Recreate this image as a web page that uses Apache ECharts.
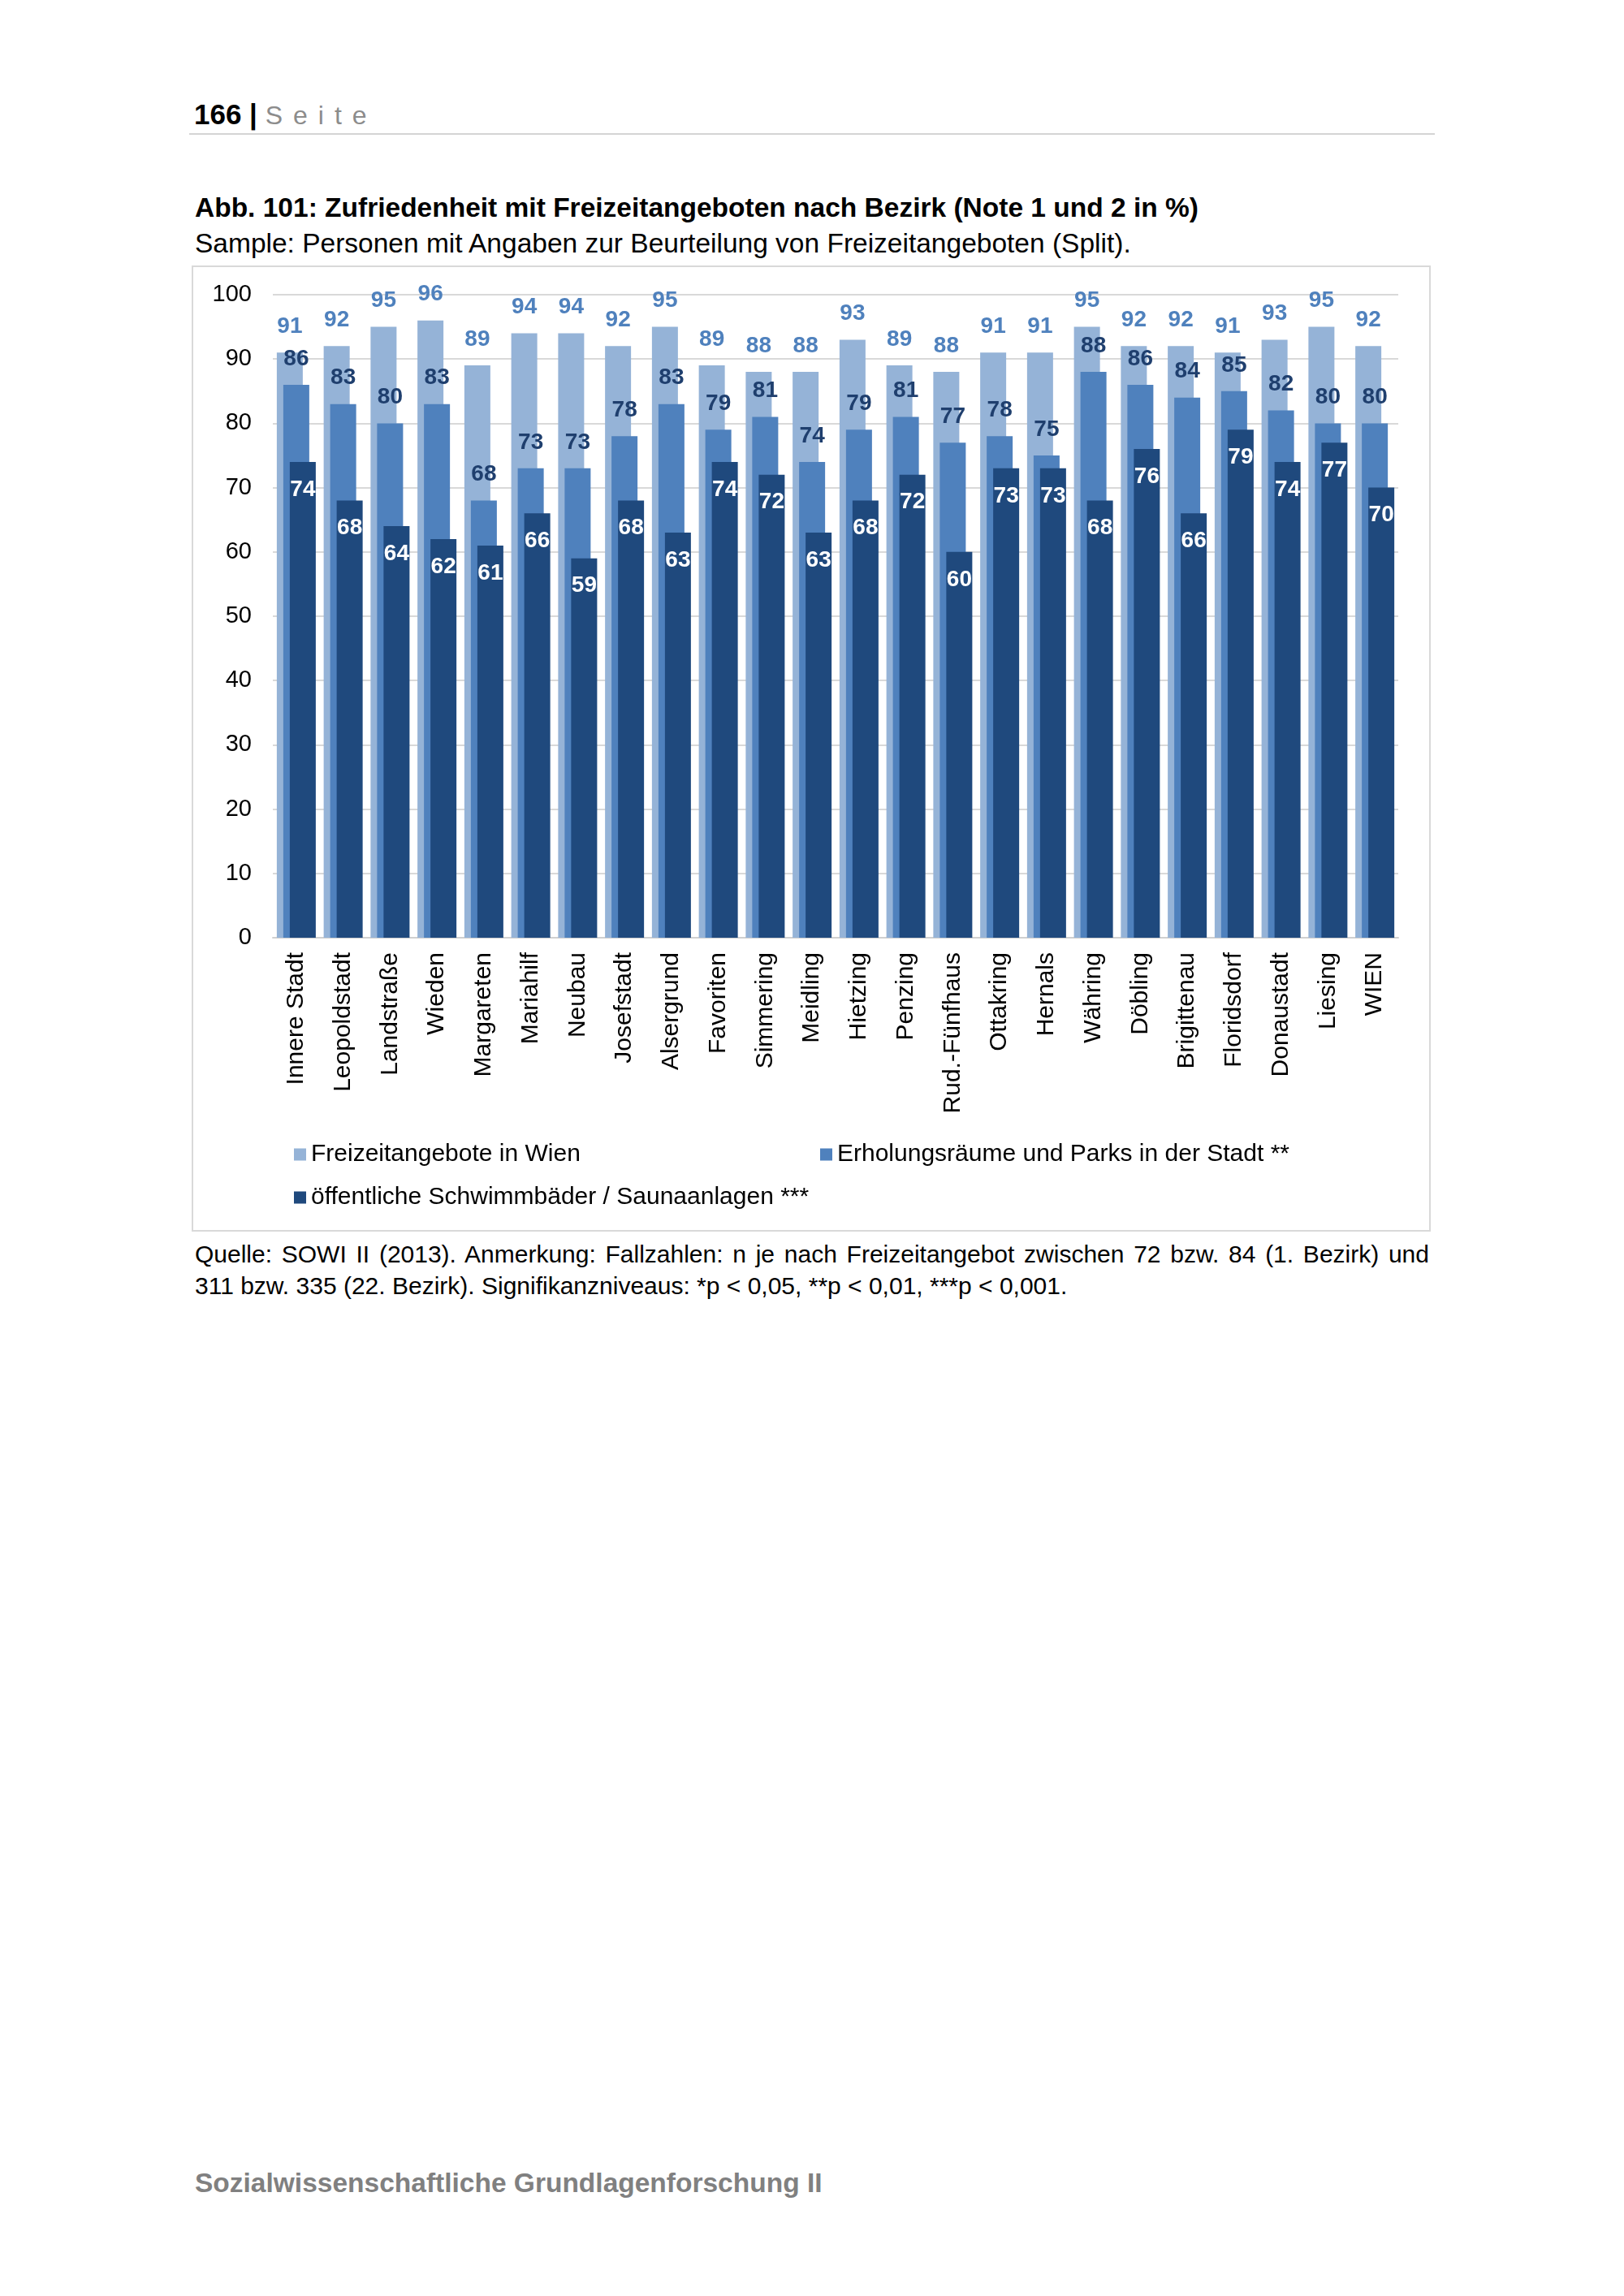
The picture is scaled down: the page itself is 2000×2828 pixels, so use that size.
<!DOCTYPE html>
<html>
<head>
<meta charset="utf-8">
<title>Abb. 101</title>
<script src="https://cdn.jsdelivr.net/npm/echarts@6.0.0/dist/echarts.min.js"></script>
<style>
  body { margin: 0; background: #fff; font-family: "Liberation Sans", Arial, sans-serif; }
  .page { position: relative; width: 2000px; height: 2828px; }
  .txt { position: absolute; white-space: nowrap; line-height: 1; }
  #head { left: 239px; top: 123px; font-size: 35px; font-weight: bold; color: #000; }
  #head .seite { font-size: 32px; font-weight: normal; color: #8c8c8c; letter-spacing: 13px; }
  #headline { position: absolute; left: 233px; top: 164px; width: 1534px; height: 2px; background: #d4d4d4; }
  #title { left: 240px; top: 239px; font-size: 33.5px; font-weight: bold; }
  #sub { left: 240px; top: 283px; font-size: 33.5px; }
  #box { position: absolute; left: 236px; top: 327px; width: 1522px; height: 1186px; border: 2px solid #d9d9d9; }
  #chart { position: absolute; left: 0; top: 0; width: 1522px; height: 1186px; }
  .note { position: absolute; left: 240px; width: 1520px; font-size: 30px; line-height: 30px; }
  #note1 { top: 1530px; text-align: justify; text-align-last: justify; }
  #note2 { top: 1569px; }
  #foot { left: 240px; top: 2672px; font-size: 33.5px; font-weight: bold; color: #808080; }
</style>
</head>
<body>
<div class="page">
  <div class="txt" id="head">166 | <span class="seite">Seite</span></div>
  <div id="headline"></div>
  <div class="txt" id="title">Abb. 101: Zufriedenheit mit Freizeitangeboten nach Bezirk (Note 1 und 2 in %)</div>
  <div class="txt" id="sub">Sample: Personen mit Angaben zur Beurteilung von Freizeitangeboten (Split).</div>
  <div id="box"><div id="chart"></div></div>
  <div class="note" id="note1">Quelle: SOWI II (2013). Anmerkung: Fallzahlen: n je nach Freizeitangebot zwischen 72 bzw. 84 (1. Bezirk) und</div>
  <div class="note" id="note2">311 bzw. 335 (22. Bezirk). Signifikanzniveaus: *p &lt; 0,05, **p &lt; 0,01, ***p &lt; 0,001.</div>
  <div class="txt" id="foot">Sozialwissenschaftliche Grundlagenforschung II</div>
</div>
<script>
// Bezirke
var categories = ['Innere Stadt', 'Leopoldstadt', 'Landstraße', 'Wieden', 'Margareten', 'Mariahilf',
  'Neubau', 'Josefstadt', 'Alsergrund', 'Favoriten', 'Simmering', 'Meidling', 'Hietzing', 'Penzing',
  'Rud.-Fünfhaus', 'Ottakring', 'Hernals', 'Währing', 'Döbling', 'Brigittenau', 'Floridsdorf',
  'Donaustadt', 'Liesing', 'WIEN'];

var seriesNames = ['Freizeitangebote in Wien', 'Erholungsräume und Parks in der Stadt **',
  'öffentliche Schwimmbäder / Saunaanlagen ***'];

var freizeit = [91, 92, 95, 96, 89, 94, 94, 92, 95, 89, 88, 88, 93, 89, 88, 91, 91, 95, 92, 92, 91, 93, 95, 92];
var erholung = [86, 83, 80, 83, 68, 73, 73, 78, 83, 79, 81, 74, 79, 81, 77, 78, 75, 88, 86, 84, 85, 82, 80, 80];
var schwimm = [74, 68, 64, 62, 61, 66, 59, 68, 63, 74, 72, 63, 68, 72, 60, 73, 73, 68, 76, 66, 79, 74, 77, 70];

var yMin = 0, yMax = 100, yStep = 10;

var font = 'Liberation Sans';
var colors = ['#95b3d7', '#4f81bd', '#1f497d'];

var chart = echarts.init(document.getElementById('chart'), null, { renderer: 'canvas' });

function barSeries(name, data, color, label) {
  return {
    name: name,
    type: 'bar',
    data: data,
    barWidth: 32,
    barGap: '-75%',
    itemStyle: { color: color },
    label: label
  };
}

var option = {
  animation: false,
  textStyle: { fontFamily: font },
  grid: { left: 98, right: 38, top: 34, bottom: 360 },
  xAxis: {
    type: 'category',
    data: categories,
    axisLine: { lineStyle: { color: '#d0d0d0', width: 2 } },
    axisTick: { show: false },
    axisLabel: { rotate: 90, margin: 18, fontSize: 30, color: '#000', fontFamily: font }
  },
  yAxis: {
    type: 'value',
    min: yMin,
    max: yMax,
    interval: yStep,
    axisLine: { show: false },
    axisTick: { show: false },
    axisLabel: { margin: 26, fontSize: 29, color: '#000', fontFamily: font },
    splitLine: { lineStyle: { color: '#d9d9d9', width: 2 } }
  },
  legend: [
    { data: [seriesNames[0]], left: 124, top: 1078 },
    { data: [seriesNames[1]], left: 772, top: 1078 },
    { data: [seriesNames[2]], left: 124, top: 1131 }
  ].map(function (l) {
    l.icon = 'rect';
    l.itemWidth = 15;
    l.itemHeight = 15;
    l.padding = 0;
    l.selectedMode = false;
    l.textStyle = { fontSize: 30, color: '#000', fontFamily: font, padding: [0, 0, 0, 1] };
    return l;
  }),
  series: [
    barSeries(seriesNames[0], freizeit, colors[0],
      { show: true, position: 'top', distance: 18, fontSize: 28, fontWeight: 'bold', color: '#4f81bd', fontFamily: font }),
    barSeries(seriesNames[1], erholung, colors[1],
      { show: true, position: 'top', distance: 18, fontSize: 28, fontWeight: 'bold', color: '#1f3f6e', fontFamily: font }),
    barSeries(seriesNames[2], schwimm, colors[2],
      { show: true, position: 'insideTop', distance: 20, fontSize: 28, fontWeight: 'bold', color: '#fff', fontFamily: font })
  ]
};

chart.setOption(option);
</script>
</body>
</html>
